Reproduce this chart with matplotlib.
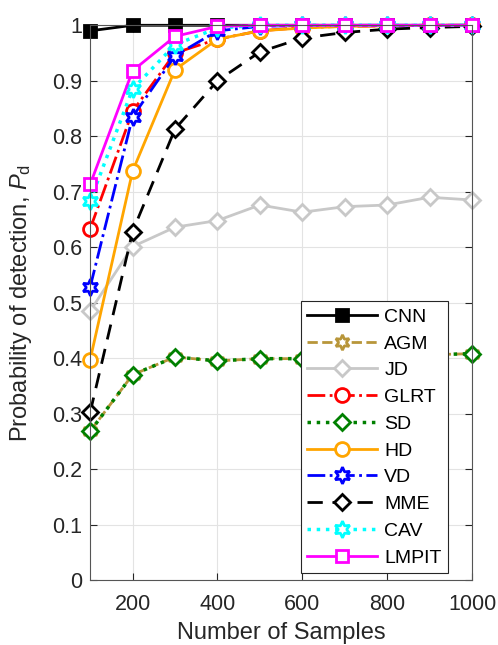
import matplotlib
matplotlib.use("Agg")
import matplotlib.pyplot as plt

plt.rcParams['font.family'] = ['Liberation Sans', 'DejaVu Sans']
plt.rcParams['mathtext.fontset'] = 'custom'
plt.rcParams['mathtext.it'] = 'Liberation Sans:italic'
plt.rcParams['mathtext.rm'] = 'Liberation Sans'

samples = [100, 200, 300, 400, 500, 600, 700, 800, 900, 1000]

pd_cnn = [0.990, 1.0, 1.0, 1.0, 1.0, 1.0, 1.0, 1.0, 1.0, 1.0]
pd_agm = [0.268, 0.370, 0.402, 0.395, 0.399, 0.399, 0.402, 0.404, 0.406, 0.408]
pd_jd = [0.485, 0.601, 0.636, 0.648, 0.676, 0.663, 0.673, 0.676, 0.690, 0.685]
pd_glrt = [0.633, 0.845, 0.950, 0.975, 0.990, 0.996, 0.998, 0.999, 1.0, 1.0]
pd_sd = [0.268, 0.370, 0.402, 0.395, 0.399, 0.399, 0.402, 0.404, 0.406, 0.408]
pd_hd = [0.397, 0.737, 0.920, 0.975, 0.990, 0.995, 0.998, 0.999, 1.0, 1.0]
pd_vd = [0.528, 0.835, 0.945, 0.990, 0.998, 1.0, 1.0, 1.0, 1.0, 1.0]
pd_mme = [0.302, 0.628, 0.813, 0.900, 0.952, 0.977, 0.987, 0.993, 0.996, 0.998]
pd_cav = [0.683, 0.885, 0.965, 0.995, 1.0, 1.0, 1.0, 1.0, 1.0, 1.0]
pd_lmpit = [0.713, 0.918, 0.980, 0.998, 1.0, 1.0, 1.0, 1.0, 1.0, 1.0]

hexagram = (6, 1, 0)

fig = plt.figure(figsize=(4.98, 6.45), dpi=100)
ax = fig.add_axes([0.181, 0.1008, 0.767, 0.860])

lw = 2
ms = 9
common = dict(lw=lw, mew=2, clip_on=False)
ax.plot(samples, pd_cnn, '-', color='k', marker='s', ms=ms, mfc='k', mec='k', label='CNN', **common)
ax.plot(samples, pd_agm, '--', color='#b8963a', marker=hexagram, ms=ms + 2, mfc='w', mec='#b8963a', label='AGM', **common)
ax.plot(samples, pd_jd, '-', color='#c8c8c8', marker='D', ms=ms - 1, mfc='w', mec='#c8c8c8', label='JD', **common)
ax.plot(samples, pd_glrt, '-.', color='r', marker='o', ms=ms + 1, mfc='w', mec='r', label='GLRT', **common)
ax.plot(samples, pd_sd, ':', color='#008000', marker='D', ms=ms - 1, mfc='w', mec='#008000', label='SD',
        lw=lw + 0.5, mew=2, clip_on=False)
ax.plot(samples, pd_hd, '-', color='#ffa500', marker='o', ms=ms + 1, mfc='w', mec='#ffa500', label='HD', **common)
ax.plot(samples, pd_vd, '-.', color='b', marker=hexagram, ms=ms + 3, mfc='w', mec='b', label='VD', **common)
ax.plot(samples, pd_mme, color='k', dashes=(5.5, 3.5), marker='D', ms=ms - 1, mfc='w', mec='k', label='MME', **common)
ax.plot(samples, pd_cav, ':', color='#00ffff', marker=hexagram, ms=ms + 3, mfc='w', mec='#00ffff', label='CAV',
        lw=lw + 0.5, mew=2, clip_on=False)
ax.plot(samples, pd_lmpit, '-', color='#ff00ff', marker='s', ms=ms - 1, mfc='w', mec='#ff00ff', label='LMPIT', **common)

ax.set_xlim(100, 1000)
ax.set_ylim(0, 1)
ax.set_xticks([200, 400, 600, 800, 1000])
ax.set_yticks([0, 0.1, 0.2, 0.3, 0.4, 0.5, 0.6, 0.7, 0.8, 0.9, 1])
ax.set_yticklabels(['0', '0.1', '0.2', '0.3', '0.4', '0.5', '0.6', '0.7', '0.8', '0.9', '1'])
ax.grid(True, color='#e3e3e3', lw=0.8)
ax.set_axisbelow(True)
ax.tick_params(direction='in', top=True, right=True, labelsize=15.5, colors='#262626', length=5)
ax.tick_params(axis='x', pad=10)
ax.tick_params(axis='y', pad=6)
for sp in ax.spines.values():
    sp.set_color('#555555')
    sp.set_linewidth(0.8)

ax.set_xlabel('Number of Samples', fontsize=17, color='#262626', labelpad=5)
ax.set_ylabel(r'Probability of detection, $P_{\rm d}$', fontsize=17, color='#262626', labelpad=13)

leg = ax.legend(loc='lower right', bbox_to_anchor=(0.938, 0.012), fontsize=14,
                handlelength=3.6, labelspacing=0.47, borderpad=0.35, handletextpad=0.35,
                borderaxespad=0, fancybox=False, framealpha=1, edgecolor='#262626')
leg.get_frame().set_linewidth(0.8)

fig.savefig('out.png', dpi=100)
